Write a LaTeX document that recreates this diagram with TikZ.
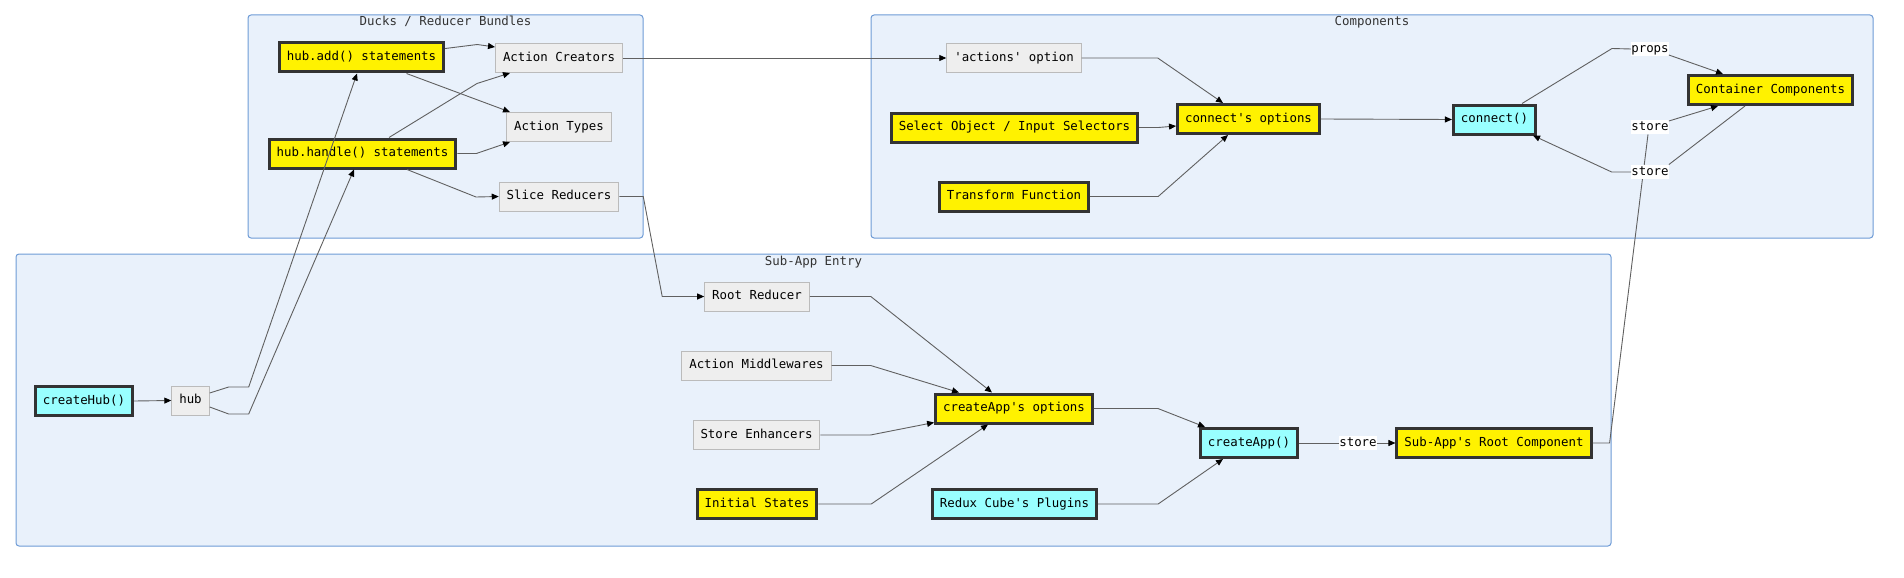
\documentclass[tikz,border=0pt]{standalone}
\usepackage{fontspec}
\setmonofont{DejaVu Sans Mono}
\usetikzlibrary{arrows.meta}
\definecolor{grpfill}{HTML}{E9F1FB}
\definecolor{grpline}{HTML}{6E9BD6}
\definecolor{plainfill}{HTML}{EEEEEE}
\definecolor{plainline}{HTML}{BBBBBB}
\definecolor{darkline}{HTML}{333333}
\definecolor{cyanfill}{HTML}{99FFFF}
\definecolor{edgegray}{HTML}{606060}

\begin{document}
\begin{tikzpicture}[x=1pt, y=-1pt,
        font=\ttfamily\fontsize{12.4}{14}\selectfont,
        arrow/.style = {draw=edgegray, line width=0.9pt, -{Triangle[length=7pt,width=6pt,color=black]}},
        link/.style = {draw=edgegray, line width=0.9pt},
        box/.style = {rectangle, minimum height=29pt, inner xsep=7.5pt, text height=9.5pt, text depth=3pt},
        plainbox/.style = {box, draw=plainline, fill=plainfill, line width=1pt},
        yellowbox/.style = {box, draw=darkline, fill=yellow, line width=3pt},
        cyanbox/.style = {box, draw=darkline, fill=cyanfill, line width=3pt},
        edgelabel/.style = {fill=white, inner xsep=0pt, inner ysep=1pt, text height=9.5pt, text depth=3pt},
        group/.style = {draw=grpline, fill=grpfill, line width=1pt, rounded corners=3pt},
        grouptitle/.style = {anchor=base, text=darkline}]
                \useasboundingbox (0,0) rectangle (1904,578);

                \draw[group] (248,15) rectangle (643,238);
                \node[grouptitle] (ducks) at (445.5,26) {Ducks / Reducer Bundles};
                \draw[group] (871,15) rectangle (1873,238);
                \node[grouptitle] (comps) at (1372,26) {Components};
                \draw[group] (16,254) rectangle (1611,546);
                \node[grouptitle] (subapp) at (813.5,265) {Sub-App Entry};

                \node[yellowbox] (hadd)    at (361.5,57.5) {hub.add() statements};
                \node[yellowbox] (hhandle) at (362.5,153.5) {hub.handle() statements};
                \node[plainbox]  (acre)    at (559,58) {Action Creators};
                \node[plainbox]  (atyp)    at (559,127) {Action Types};
                \node[plainbox]  (slice)   at (559,196.5) {Slice Reducers};

                \node[plainbox]  (aopt)    at (1014,58) {'actions' option};
                \node[yellowbox] (selobj)  at (1014.5,127.5) {Select Object / Input Selectors};
                \node[yellowbox] (trans)   at (1014,196.5) {Transform Function};
                \node[yellowbox] (copts)   at (1248.5,119) {connect's options};
                \node[cyanbox]   (conn)    at (1494.5,119.5) {connect()};
                \node[yellowbox] (cont)    at (1770.5,90) {Container Components};

                \node[cyanbox]   (chub)    at (84,401) {createHub()};
                \node[plainbox]  (hub)     at (190.5,400.5) {hub};
                \node[plainbox]  (rootred) at (757,296.5) {Root Reducer};
                \node[plainbox]  (mware)   at (756.5,365.5) {Action Middlewares};
                \node[plainbox]  (enh)     at (756.5,435) {Store Enhancers};
                \node[yellowbox] (init)    at (757,504) {Initial States};
                \node[yellowbox] (aopts)   at (1014,408.5) {createApp's options};
                \node[cyanbox]   (plug)    at (1014.5,504) {Redux Cube's Plugins};
                \node[cyanbox]   (capp)    at (1249,443) {createApp()};
                \node[yellowbox] (subroot) at (1494,443) {Sub-App's Root Component};

                \node[edgelabel] (lprops)  at (1650,49) {props};
                \node[edgelabel] (lstoreA) at (1650,127) {store};
                \node[edgelabel] (lstoreC) at (1358,443) {store};

                \draw[arrow] (chub.east) -- (hub.west);
                \draw[arrow] ([yshift=7.5pt]hub.east) -- ++(19,-6) -- ++(20,0) -- ([xshift=-4.5pt]hadd.south);
                \draw[arrow] ([yshift=-6.5pt]hub.east) -- ++(19,7) -- ++(20,0) -- ([xshift=-8.5pt]hhandle.south);

                \draw[arrow] ([yshift=9pt]hadd.east) -- ++(32,-4) -- ([yshift=11pt]acre.west);
                \draw[arrow] ([xshift=45pt]hadd.south) -- ([xshift=-49pt]atyp.north);
                \draw[arrow] ([xshift=26.5pt]hhandle.north) -- ++(88,-54) -- ([xshift=-49pt]acre.south);
                \draw[arrow] (hhandle.east) -- ++(19,0) -- ([xshift=-49pt]atyp.south);
                \draw[arrow] ([xshift=44.5pt]hhandle.south) -- ++(69,27.5) -- (slice.west);

                \draw[arrow] (acre.east) -- (aopt.west);
                \draw[arrow] (slice.east) -- ++(24,0) -- ([xshift=-42pt]rootred.west) -- (rootred.west);

                \draw[arrow] (rootred.east) -- ++(61,0) -- ([xshift=-22pt]aopts.north);
                \draw[arrow] (mware.east) -- ++(39,0) -- ([xshift=-55pt]aopts.north);
                \draw[arrow] (enh.east) -- ++(50,0) -- ([yshift=2pt]aopts.south west);
                \draw[arrow] (init.east) -- ++(53,0) -- ([xshift=-26pt]aopts.south);
                \draw[arrow] (aopts.east) -- ++(64,0) -- ([xshift=-44pt]capp.north);
                \draw[arrow] (plug.east) -- ++(60,0) -- ([xshift=-26pt]capp.south);
                \draw[link] (capp.east) -- (lstoreC.west);
                \draw[arrow] (lstoreC.east) -- (subroot.west);

                \draw[arrow] (aopt.east) -- ++(76,0) -- ([xshift=-25.5pt]copts.north);
                \draw[arrow] (selobj.east) -- ++(19,0) -- ([yshift=-7pt]copts.west);
                \draw[arrow] (trans.east) -- ++(68,0) -- ([xshift=-20.5pt]copts.south);
                \draw[arrow] (copts.east) -- (conn.west);

                \draw[link] ([xshift=27.5pt]conn.north) -- ++(90,-55) -- (lprops.west);
                \draw[arrow] ([yshift=-6pt]lprops.east) -- ([xshift=-47.5pt]cont.north);
                \draw[link] (subroot.east) -- ++(17,0) -- ([xshift=-2pt]lstoreA.south);
                \draw[arrow] ([yshift=6pt]lstoreA.east) -- ([xshift=-52.5pt]cont.south);

                \node[edgelabel] (lstoreB) at (1650,172) {store};
                \draw[link] ([xshift=-25.5pt]cont.south) -- (lstoreB.north east);
                \draw[arrow] (lstoreB.west) -- ++(-19.5,0) -- ([xshift=38.5pt]conn.south);
            \end{tikzpicture}
\end{document}
